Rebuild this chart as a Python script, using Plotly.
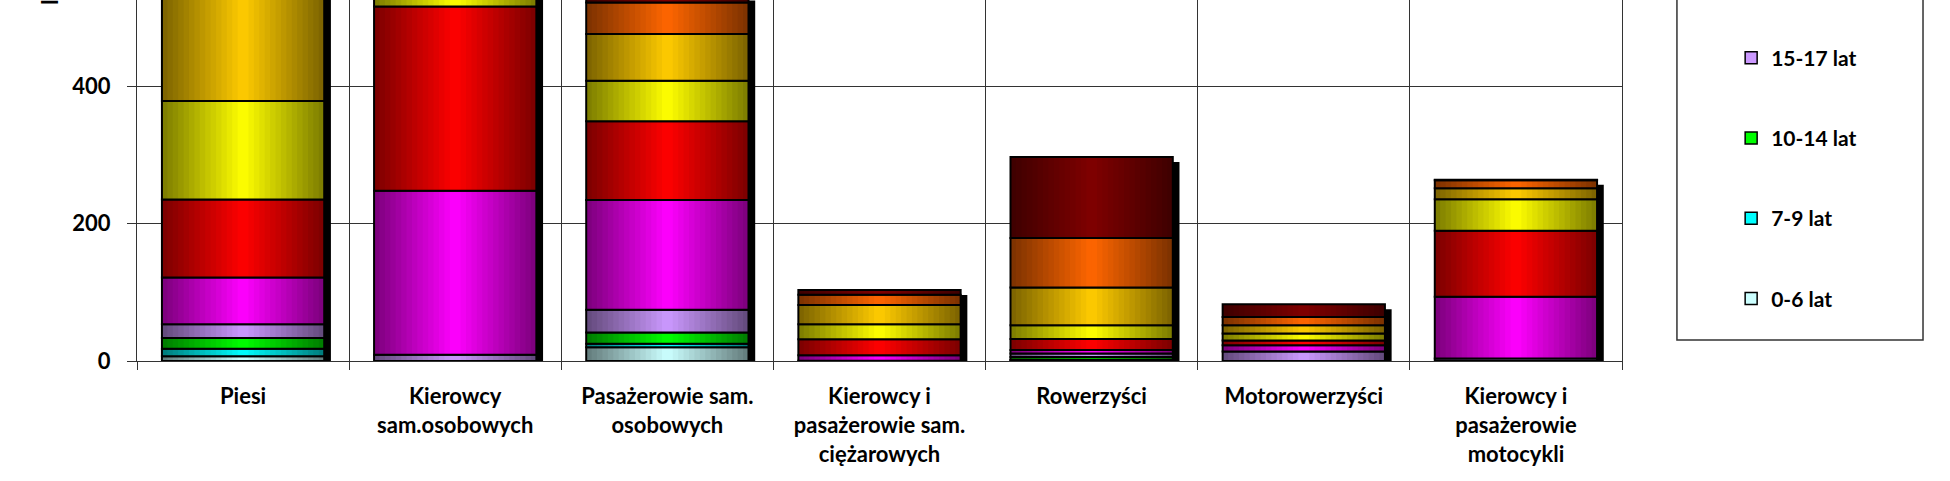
import plotly.graph_objects as go

categories = ["Piesi", "Kierowcy<br>sam.osobowych", "Pasażerowie sam.<br>osobowych",
              "Kierowcy i<br>pasażerowie sam.<br>ciężarowych", "Rowerzyści",
              "Motorowerzyści", "Kierowcy i<br>pasażerowie<br>motocykli"]

age_0_6 = [7, 0, 20, 0, 1, 0, 0]
age_7_9 = [11, 0, 5, 0, 1, 0, 0]
age_10_14 = [15.5, 0, 16.5, 0, 4, 0, 0]
age_15_17 = [20, 9, 33, 0.5, 5, 14, 3.5]
age_18_24 = [68, 239, 160, 8, 5, 9, 90]
age_25_39 = [113.5, 268, 114.5, 23, 16, 7, 96]
age_40_59 = [143.5, 210, 59, 22, 20, 10, 46]
age_60_64 = [220, 90, 68, 28, 55, 12, 16]
age_65_74 = [150, 50, 46, 15, 72, 12, 11.5]
age_75_plus = [260, 30, 10, 7, 118, 18.5, 1]

series_names = ["0-6 lat", "7-9 lat", "10-14 lat", "15-17 lat", "18-24 lat", "25-39 lat",
                "40-59 lat", "60-64 lat", "65-74 lat", "75 lat i więcej"]
series_values = [age_0_6, age_7_9, age_10_14, age_15_17, age_18_24, age_25_39,
                 age_40_59, age_60_64, age_65_74, age_75_plus]
series_colors = ["#CCFFFF", "#00FFFF", "#00FF00", "#CC99FF", "#FF00FF", "#FF0000",
                 "#FFFF00", "#FFCC00", "#FF6600", "#800000"]
legend_visible = ["0-6 lat", "7-9 lat", "10-14 lat", "15-17 lat"]

FONT = "Lato"
BAR_W = 0.765
N_STRIPS = 30


def shade(hex_color, f):
    h = hex_color.lstrip("#")
    r, g, b = int(h[0:2], 16), int(h[2:4], 16), int(h[4:6], 16)
    return "rgb(%d,%d,%d)" % (round(r * f), round(g * f), round(b * f))


fig = go.Figure()

# drop shadow behind the stacks
totals = [sum(v[i] for v in series_values) for i in range(len(categories))]
fig.add_bar(x=categories, y=[t - 7.3 for t in totals], base=0, width=BAR_W,
            offset=-BAR_W / 2 + 0.0316, marker=dict(color="black", line=dict(width=0)),
            showlegend=False, hoverinfo="skip")

strip_w = BAR_W / N_STRIPS
base = [0.0] * len(categories)
for idx, (name, vals, col) in enumerate(zip(series_names, series_values, series_colors)):
    # horizontal gradient: each strip runs to the right edge, the next one covers it
    for i in range(N_STRIPS):
        t = (i + 0.5) / N_STRIPS * 2 - 1
        f = 1 - 0.52 * abs(t)
        fig.add_bar(x=categories, y=vals, base=base, width=BAR_W - i * strip_w,
                    offset=-BAR_W / 2 + i * strip_w,
                    marker=dict(color=shade(col, f), line=dict(width=0)),
                    showlegend=False, hoverinfo="skip")
    fig.add_bar(x=categories, y=vals, base=base, width=BAR_W, offset=-BAR_W / 2,
                marker=dict(color="rgba(0,0,0,0)", line=dict(color="black", width=2)),
                showlegend=False, name=name, hoverinfo="skip")
    if name in legend_visible:
        fig.add_bar(x=[categories[0]], y=[0], base=[0], width=BAR_W, offset=-BAR_W / 2,
                    name=name, legendgroup=name, legendrank=100 - idx, hoverinfo="skip",
                    marker=dict(color=col, line=dict(color="black", width=1.5)))
    base = [b + v for b, v in zip(base, vals)]

fig.update_layout(
    width=1950, height=481,
    margin=dict(l=137, r=328, t=0, b=120),
    barmode="overlay",
    paper_bgcolor="white", plot_bgcolor="white",
    font=dict(family=FONT, size=22, color="black"),
    showlegend=True,
    legend=dict(x=1.0735, y=0.896, xanchor="left", yanchor="top",
                traceorder="grouped", tracegroupgap=50,
                font=dict(family=FONT, size=21, color="black", weight="bold"),
                bgcolor="rgba(0,0,0,0)", borderwidth=0),
    xaxis=dict(type="category", tickson="boundaries", ticks="outside", ticklen=8,
               tickcolor="#333", showgrid=True, gridcolor="#333", gridwidth=1,
               showline=True, linecolor="#333", linewidth=1,
               tickfont=dict(family=FONT, size=22, color="black", weight="bold"),
               ticklabelstandoff=16),
    yaxis=dict(range=[0, 525.5], dtick=200, ticks="outside", ticklen=9, tickcolor="#333",
               showgrid=True, gridcolor="#333", gridwidth=1, zeroline=False,
               showline=True, linecolor="#333", linewidth=1, mirror=True,
               tickfont=dict(family=FONT, size=22, color="black", weight="bold"),
               ticklabelstandoff=12),
    shapes=[dict(type="rect", xref="paper", yref="paper", x0=1.037, x1=1.2027,
                 y0=0.058, y1=1.3, line=dict(color="#333", width=1.5),
                 fillcolor="rgba(0,0,0,0)", layer="below")],
    annotations=[dict(text="liczba ofiar", textangle=-90, xref="paper", yref="paper",
                      x=-0.0591, y=0.9806, xanchor="center", yanchor="bottom",
                      showarrow=False,
                      font=dict(family=FONT, size=22, color="black", weight="bold"))],
)

fig.write_html("out.html")
